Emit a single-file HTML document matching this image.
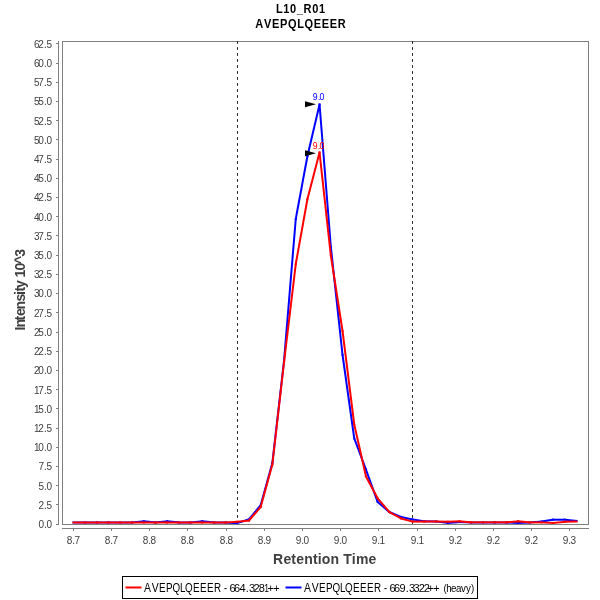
<!DOCTYPE html>
<html><head><meta charset="utf-8"><title>L10_R01 AVEPQLQEEER</title>
<style>
html,body{margin:0;padding:0;background:#fff;}
body{width:600px;height:600px;overflow:hidden;}
svg{display:block;font-family:"Liberation Sans",sans-serif;}
.tk{font-size:10px;fill:#404040;}
.ax{stroke:#808080;stroke-width:1;fill:none;shape-rendering:crispEdges;}
</style></head><body>
<svg width="600" height="600" viewBox="0 0 600 600">
<rect width="600" height="600" fill="#fff"/>
<text transform="scale(0.92,1)" x="327.01" y="13" text-anchor="middle" letter-spacing="0.7" font-size="12" font-weight="bold" fill="#000" style="font-kerning:none">L10_R01</text>
<text transform="scale(0.92,1)" x="327.01" y="28" text-anchor="middle" letter-spacing="0.7" font-size="12" font-weight="bold" fill="#000" style="font-kerning:none">AVEPQLQEEER</text>

<rect x="62.5" y="41.5" width="526" height="483" class="ax"/>
<line x1="58.5" y1="41" x2="58.5" y2="525" class="ax"/>
<line x1="56" y1="524.5" x2="58" y2="524.5" class="ax"/>
<text x="38.4 44.1 46.4" y="528" class="tk">0.0</text>
<line x1="56" y1="504.5" x2="58" y2="504.5" class="ax"/>
<text x="38.4 44.1 46.4" y="509" class="tk">2.5</text>
<line x1="56" y1="485.5" x2="58" y2="485.5" class="ax"/>
<text x="38.4 44.1 46.4" y="490" class="tk">5.0</text>
<line x1="56" y1="466.5" x2="58" y2="466.5" class="ax"/>
<text x="38.4 44.1 46.4" y="470" class="tk">7.5</text>
<line x1="56" y1="447.5" x2="58" y2="447.5" class="ax"/>
<text x="33.9 38.3 44.1 46.4" y="451" class="tk">10.0</text>
<line x1="56" y1="428.5" x2="58" y2="428.5" class="ax"/>
<text x="33.9 38.3 44.1 46.4" y="432" class="tk">12.5</text>
<line x1="56" y1="408.5" x2="58" y2="408.5" class="ax"/>
<text x="33.9 38.3 44.1 46.4" y="413" class="tk">15.0</text>
<line x1="56" y1="389.5" x2="58" y2="389.5" class="ax"/>
<text x="33.9 38.3 44.1 46.4" y="394" class="tk">17.5</text>
<line x1="56" y1="370.5" x2="58" y2="370.5" class="ax"/>
<text x="33.9 38.3 44.1 46.4" y="374" class="tk">20.0</text>
<line x1="56" y1="351.5" x2="58" y2="351.5" class="ax"/>
<text x="33.9 38.3 44.1 46.4" y="355" class="tk">22.5</text>
<line x1="56" y1="332.5" x2="58" y2="332.5" class="ax"/>
<text x="33.9 38.3 44.1 46.4" y="336" class="tk">25.0</text>
<line x1="56" y1="312.5" x2="58" y2="312.5" class="ax"/>
<text x="33.9 38.3 44.1 46.4" y="317" class="tk">27.5</text>
<line x1="56" y1="293.5" x2="58" y2="293.5" class="ax"/>
<text x="33.9 38.3 44.1 46.4" y="297" class="tk">30.0</text>
<line x1="56" y1="274.5" x2="58" y2="274.5" class="ax"/>
<text x="33.9 38.3 44.1 46.4" y="278" class="tk">32.5</text>
<line x1="56" y1="255.5" x2="58" y2="255.5" class="ax"/>
<text x="33.9 38.3 44.1 46.4" y="259" class="tk">35.0</text>
<line x1="56" y1="235.5" x2="58" y2="235.5" class="ax"/>
<text x="33.9 38.3 44.1 46.4" y="240" class="tk">37.5</text>
<line x1="56" y1="216.5" x2="58" y2="216.5" class="ax"/>
<text x="33.9 38.3 44.1 46.4" y="221" class="tk">40.0</text>
<line x1="56" y1="197.5" x2="58" y2="197.5" class="ax"/>
<text x="33.9 38.3 44.1 46.4" y="201" class="tk">42.5</text>
<line x1="56" y1="178.5" x2="58" y2="178.5" class="ax"/>
<text x="33.9 38.3 44.1 46.4" y="182" class="tk">45.0</text>
<line x1="56" y1="159.5" x2="58" y2="159.5" class="ax"/>
<text x="33.9 38.3 44.1 46.4" y="163" class="tk">47.5</text>
<line x1="56" y1="139.5" x2="58" y2="139.5" class="ax"/>
<text x="33.9 38.3 44.1 46.4" y="144" class="tk">50.0</text>
<line x1="56" y1="120.5" x2="58" y2="120.5" class="ax"/>
<text x="33.9 38.3 44.1 46.4" y="125" class="tk">52.5</text>
<line x1="56" y1="101.5" x2="58" y2="101.5" class="ax"/>
<text x="33.9 38.3 44.1 46.4" y="105" class="tk">55.0</text>
<line x1="56" y1="82.5" x2="58" y2="82.5" class="ax"/>
<text x="33.9 38.3 44.1 46.4" y="86" class="tk">57.5</text>
<line x1="56" y1="63.5" x2="58" y2="63.5" class="ax"/>
<text x="33.9 38.3 44.1 46.4" y="67" class="tk">60.0</text>
<line x1="56" y1="43.5" x2="58" y2="43.5" class="ax"/>
<text x="33.9 38.3 44.1 46.4" y="48" class="tk">62.5</text>
<line x1="62" y1="528.5" x2="589" y2="528.5" class="ax"/>
<line x1="73.5" y1="528" x2="73.5" y2="531" class="ax"/>
<text x="66.75 72.30 74.60" y="544" class="tk">8.7</text>
<line x1="111.5" y1="528" x2="111.5" y2="531" class="ax"/>
<text x="104.75 110.30 112.60" y="544" class="tk">8.7</text>
<line x1="149.5" y1="528" x2="149.5" y2="531" class="ax"/>
<text x="142.75 148.30 150.60" y="544" class="tk">8.8</text>
<line x1="187.5" y1="528" x2="187.5" y2="531" class="ax"/>
<text x="180.75 186.30 188.60" y="544" class="tk">8.8</text>
<line x1="226.5" y1="528" x2="226.5" y2="531" class="ax"/>
<text x="219.75 225.30 227.60" y="544" class="tk">8.8</text>
<line x1="264.5" y1="528" x2="264.5" y2="531" class="ax"/>
<text x="257.75 263.30 265.60" y="544" class="tk">8.9</text>
<line x1="302.5" y1="528" x2="302.5" y2="531" class="ax"/>
<text x="295.75 301.30 303.60" y="544" class="tk">9.0</text>
<line x1="340.5" y1="528" x2="340.5" y2="531" class="ax"/>
<text x="333.75 339.30 341.60" y="544" class="tk">9.0</text>
<line x1="378.5" y1="528" x2="378.5" y2="531" class="ax"/>
<text x="371.75 377.30 379.60" y="544" class="tk">9.1</text>
<line x1="417.5" y1="528" x2="417.5" y2="531" class="ax"/>
<text x="410.75 416.30 418.60" y="544" class="tk">9.1</text>
<line x1="455.5" y1="528" x2="455.5" y2="531" class="ax"/>
<text x="448.75 454.30 456.60" y="544" class="tk">9.2</text>
<line x1="493.5" y1="528" x2="493.5" y2="531" class="ax"/>
<text x="486.75 492.30 494.60" y="544" class="tk">9.2</text>
<line x1="531.5" y1="528" x2="531.5" y2="531" class="ax"/>
<text x="524.75 530.30 532.60" y="544" class="tk">9.2</text>
<line x1="569.5" y1="528" x2="569.5" y2="531" class="ax"/>
<text x="562.75 568.30 570.60" y="544" class="tk">9.3</text>
<text x="273.1" y="564" letter-spacing="0.18" font-size="14" font-weight="bold" fill="#404040">Retention Time</text>
<text transform="translate(24.6,330.6) rotate(-90)" x="0 3 10 14.5 21 29 35.5 39 42.5 50 53.2 60 66.6 73.9" font-size="14" font-weight="bold" fill="#404040">Intensity 10^3</text>
<line x1="237.5" y1="41.15" x2="237.5" y2="524" stroke="#1c1c1c" stroke-width="1" stroke-dasharray="2.7 3.3"/>
<line x1="412.5" y1="41.15" x2="412.5" y2="524" stroke="#1c1c1c" stroke-width="1" stroke-dasharray="2.7 3.3"/>
<g stroke="#0000ff" stroke-width="2" stroke-linecap="square" fill="none">
<line x1="73.50" y1="522.50" x2="85.20" y2="522.50"/>
<line x1="85.20" y1="522.50" x2="96.90" y2="522.50"/>
<line x1="96.90" y1="522.50" x2="108.59" y2="522.50"/>
<line x1="108.59" y1="522.50" x2="120.29" y2="522.50"/>
<line x1="120.29" y1="522.50" x2="131.99" y2="522.50"/>
<line x1="131.99" y1="522.50" x2="143.69" y2="521.30"/>
<line x1="143.69" y1="521.30" x2="155.38" y2="522.50"/>
<line x1="155.38" y1="522.50" x2="167.08" y2="521.30"/>
<line x1="167.08" y1="521.30" x2="178.78" y2="522.50"/>
<line x1="178.78" y1="522.50" x2="190.48" y2="522.50"/>
<line x1="190.48" y1="522.50" x2="202.17" y2="521.30"/>
<line x1="202.17" y1="521.30" x2="213.87" y2="522.50"/>
<line x1="213.87" y1="522.50" x2="225.57" y2="522.60"/>
<line x1="225.57" y1="522.60" x2="237.27" y2="523.10"/>
<line x1="237.27" y1="523.10" x2="248.97" y2="519.30"/>
<line x1="248.97" y1="519.30" x2="260.66" y2="505.20"/>
<line x1="260.66" y1="505.20" x2="272.36" y2="463.00"/>
<line x1="272.36" y1="463.00" x2="284.06" y2="360.50"/>
<line x1="284.06" y1="360.50" x2="295.76" y2="219.00"/>
<line x1="295.76" y1="219.00" x2="307.45" y2="156.00"/>
<line x1="307.45" y1="156.00" x2="319.55" y2="104.50"/>
<line x1="319.55" y1="104.50" x2="330.85" y2="247.00"/>
<line x1="330.85" y1="247.00" x2="342.55" y2="355.00"/>
<line x1="342.55" y1="355.00" x2="354.24" y2="438.30"/>
<line x1="354.24" y1="438.30" x2="365.94" y2="469.50"/>
<line x1="365.94" y1="469.50" x2="377.64" y2="502.00"/>
<line x1="377.64" y1="502.00" x2="389.34" y2="512.00"/>
<line x1="389.34" y1="512.00" x2="401.03" y2="517.00"/>
<line x1="401.03" y1="517.00" x2="412.73" y2="519.50"/>
<line x1="412.73" y1="519.50" x2="424.43" y2="521.30"/>
<line x1="424.43" y1="521.30" x2="436.13" y2="521.50"/>
<line x1="436.13" y1="521.50" x2="447.83" y2="523.00"/>
<line x1="447.83" y1="523.00" x2="459.52" y2="522.00"/>
<line x1="459.52" y1="522.00" x2="471.22" y2="522.50"/>
<line x1="471.22" y1="522.50" x2="482.92" y2="522.50"/>
<line x1="482.92" y1="522.50" x2="494.62" y2="522.50"/>
<line x1="494.62" y1="522.50" x2="506.31" y2="522.50"/>
<line x1="506.31" y1="522.50" x2="518.01" y2="523.00"/>
<line x1="518.01" y1="523.00" x2="529.71" y2="522.50"/>
<line x1="529.71" y1="522.50" x2="541.41" y2="521.50"/>
<line x1="541.41" y1="521.50" x2="553.10" y2="519.70"/>
<line x1="553.10" y1="519.70" x2="564.80" y2="519.70"/>
<line x1="564.80" y1="519.70" x2="576.50" y2="520.80"/>
</g>
<g stroke="#ff0000" stroke-width="2" stroke-linecap="square" fill="none">
<line x1="73.50" y1="522.50" x2="85.20" y2="522.50"/>
<line x1="85.20" y1="522.50" x2="96.90" y2="522.50"/>
<line x1="96.90" y1="522.50" x2="108.59" y2="522.50"/>
<line x1="108.59" y1="522.50" x2="120.29" y2="522.50"/>
<line x1="120.29" y1="522.50" x2="131.99" y2="522.50"/>
<line x1="131.99" y1="522.50" x2="143.69" y2="522.50"/>
<line x1="143.69" y1="522.50" x2="155.38" y2="522.50"/>
<line x1="155.38" y1="522.50" x2="167.08" y2="522.50"/>
<line x1="167.08" y1="522.50" x2="178.78" y2="522.50"/>
<line x1="178.78" y1="522.50" x2="190.48" y2="522.50"/>
<line x1="190.48" y1="522.50" x2="202.17" y2="522.50"/>
<line x1="202.17" y1="522.50" x2="213.87" y2="522.50"/>
<line x1="213.87" y1="522.50" x2="225.57" y2="522.40"/>
<line x1="225.57" y1="522.40" x2="237.27" y2="521.70"/>
<line x1="237.27" y1="521.70" x2="248.97" y2="520.50"/>
<line x1="248.97" y1="520.50" x2="260.66" y2="507.00"/>
<line x1="260.66" y1="507.00" x2="272.36" y2="464.50"/>
<line x1="272.36" y1="464.50" x2="284.06" y2="362.00"/>
<line x1="284.06" y1="362.00" x2="295.76" y2="264.00"/>
<line x1="295.76" y1="264.00" x2="307.45" y2="199.00"/>
<line x1="307.45" y1="199.00" x2="319.55" y2="152.50"/>
<line x1="319.55" y1="152.50" x2="330.85" y2="255.70"/>
<line x1="330.85" y1="255.70" x2="342.55" y2="331.00"/>
<line x1="342.55" y1="331.00" x2="354.24" y2="424.50"/>
<line x1="354.24" y1="424.50" x2="365.94" y2="476.30"/>
<line x1="365.94" y1="476.30" x2="377.64" y2="498.30"/>
<line x1="377.64" y1="498.30" x2="389.34" y2="512.00"/>
<line x1="389.34" y1="512.00" x2="401.03" y2="518.50"/>
<line x1="401.03" y1="518.50" x2="412.73" y2="521.60"/>
<line x1="412.73" y1="521.60" x2="424.43" y2="521.60"/>
<line x1="424.43" y1="521.60" x2="436.13" y2="521.50"/>
<line x1="436.13" y1="521.50" x2="447.83" y2="521.70"/>
<line x1="447.83" y1="521.70" x2="459.52" y2="521.30"/>
<line x1="459.52" y1="521.30" x2="471.22" y2="522.30"/>
<line x1="471.22" y1="522.30" x2="482.92" y2="522.30"/>
<line x1="482.92" y1="522.30" x2="494.62" y2="522.30"/>
<line x1="494.62" y1="522.30" x2="506.31" y2="522.30"/>
<line x1="506.31" y1="522.30" x2="518.01" y2="521.30"/>
<line x1="518.01" y1="521.30" x2="529.71" y2="522.40"/>
<line x1="529.71" y1="522.40" x2="541.41" y2="522.40"/>
<line x1="541.41" y1="522.40" x2="553.10" y2="523.00"/>
<line x1="553.10" y1="523.00" x2="564.80" y2="521.80"/>
<line x1="564.80" y1="521.80" x2="576.50" y2="521.60"/>
</g>
<polygon points="305,101.2 316,104.2 305,107.2" fill="#000"/>
<polygon points="305,150.2 316,153.2 305,156.2" fill="#000"/>
<text transform="scale(0.88,1)" x="355.34 361.36 363.18" y="100" font-size="9.9" style="text-rendering:geometricPrecision" fill="#0000ff">9.0</text>
<text transform="scale(0.88,1)" x="355.34 361.36 363.18" y="149" font-size="9.9" style="text-rendering:geometricPrecision" fill="#ff0000">9.0</text>
<rect x="122.5" y="576.5" width="355" height="22" fill="#fff" stroke="#000" stroke-width="1" shape-rendering="crispEdges"/>
<line x1="125.5" y1="587.5" x2="141.5" y2="587.5" stroke="#ff0000" stroke-width="2"/>
<text y="592" font-size="12" fill="#000"><tspan x="144.00" textLength="6.96" lengthAdjust="spacingAndGlyphs">A</tspan><tspan x="151.70" textLength="6.96" lengthAdjust="spacingAndGlyphs">V</tspan><tspan x="159.00" textLength="6.56" lengthAdjust="spacingAndGlyphs">E</tspan><tspan x="166.00" textLength="6.56" lengthAdjust="spacingAndGlyphs">P</tspan><tspan x="172.50" textLength="7.65" lengthAdjust="spacingAndGlyphs">Q</tspan><tspan x="180.00" textLength="5.47" lengthAdjust="spacingAndGlyphs">L</tspan><tspan x="185.00" textLength="7.65" lengthAdjust="spacingAndGlyphs">Q</tspan><tspan x="193.00" textLength="6.56" lengthAdjust="spacingAndGlyphs">E</tspan><tspan x="200.00" textLength="6.56" lengthAdjust="spacingAndGlyphs">E</tspan><tspan x="207.00" textLength="6.56" lengthAdjust="spacingAndGlyphs">E</tspan><tspan x="214.00" textLength="7.11" lengthAdjust="spacingAndGlyphs">R</tspan> <tspan x="223.90" textLength="3.00" lengthAdjust="spacingAndGlyphs">-</tspan> <tspan x="229.60" textLength="6.14" lengthAdjust="spacingAndGlyphs" font-size="11.5">6</tspan><tspan x="234.10" textLength="6.14" lengthAdjust="spacingAndGlyphs" font-size="11.5">6</tspan><tspan x="239.60" textLength="6.14" lengthAdjust="spacingAndGlyphs" font-size="11.5">4</tspan><tspan x="245.80" textLength="3.07" lengthAdjust="spacingAndGlyphs" font-size="11.5">.</tspan><tspan x="249.10" textLength="6.14" lengthAdjust="spacingAndGlyphs" font-size="11.5">3</tspan><tspan x="253.60" textLength="6.14" lengthAdjust="spacingAndGlyphs" font-size="11.5">2</tspan><tspan x="258.70" textLength="6.14" lengthAdjust="spacingAndGlyphs" font-size="11.5">8</tspan><tspan x="264.20" textLength="4.80" lengthAdjust="spacingAndGlyphs" font-size="11.5">1</tspan><tspan x="267.40" textLength="6.42" lengthAdjust="spacingAndGlyphs" font-size="11">+</tspan><tspan x="273.20" textLength="6.42" lengthAdjust="spacingAndGlyphs" font-size="11">+</tspan></text>
<line x1="285.5" y1="587.5" x2="301.5" y2="587.5" stroke="#0000ff" stroke-width="2"/>
<text y="592" font-size="12" fill="#000"><tspan x="304.00" textLength="6.96" lengthAdjust="spacingAndGlyphs">A</tspan><tspan x="311.70" textLength="6.96" lengthAdjust="spacingAndGlyphs">V</tspan><tspan x="319.00" textLength="6.56" lengthAdjust="spacingAndGlyphs">E</tspan><tspan x="326.00" textLength="6.56" lengthAdjust="spacingAndGlyphs">P</tspan><tspan x="332.50" textLength="7.65" lengthAdjust="spacingAndGlyphs">Q</tspan><tspan x="340.00" textLength="5.47" lengthAdjust="spacingAndGlyphs">L</tspan><tspan x="345.00" textLength="7.65" lengthAdjust="spacingAndGlyphs">Q</tspan><tspan x="353.00" textLength="6.56" lengthAdjust="spacingAndGlyphs">E</tspan><tspan x="360.00" textLength="6.56" lengthAdjust="spacingAndGlyphs">E</tspan><tspan x="367.00" textLength="6.56" lengthAdjust="spacingAndGlyphs">E</tspan><tspan x="374.00" textLength="7.11" lengthAdjust="spacingAndGlyphs">R</tspan> <tspan x="383.90" textLength="3.00" lengthAdjust="spacingAndGlyphs">-</tspan> <tspan x="389.60" textLength="6.14" lengthAdjust="spacingAndGlyphs" font-size="11.5">6</tspan><tspan x="394.10" textLength="6.14" lengthAdjust="spacingAndGlyphs" font-size="11.5">6</tspan><tspan x="399.60" textLength="6.14" lengthAdjust="spacingAndGlyphs" font-size="11.5">9</tspan><tspan x="405.80" textLength="3.07" lengthAdjust="spacingAndGlyphs" font-size="11.5">.</tspan><tspan x="409.10" textLength="6.14" lengthAdjust="spacingAndGlyphs" font-size="11.5">3</tspan><tspan x="413.60" textLength="6.14" lengthAdjust="spacingAndGlyphs" font-size="11.5">3</tspan><tspan x="418.70" textLength="6.14" lengthAdjust="spacingAndGlyphs" font-size="11.5">2</tspan><tspan x="423.70" textLength="6.14" lengthAdjust="spacingAndGlyphs" font-size="11.5">2</tspan><tspan x="427.40" textLength="6.42" lengthAdjust="spacingAndGlyphs" font-size="11">+</tspan><tspan x="433.20" textLength="6.42" lengthAdjust="spacingAndGlyphs" font-size="11">+</tspan> <tspan x="443.50" textLength="3.24" lengthAdjust="spacingAndGlyphs" font-size="11.6">(</tspan><tspan x="446.30" textLength="5.42" lengthAdjust="spacingAndGlyphs" font-size="11.6">h</tspan><tspan x="451.00" textLength="5.42" lengthAdjust="spacingAndGlyphs" font-size="11.6">e</tspan><tspan x="456.00" textLength="5.42" lengthAdjust="spacingAndGlyphs" font-size="11.6">a</tspan><tspan x="461.00" textLength="4.87" lengthAdjust="spacingAndGlyphs" font-size="11.6">v</tspan><tspan x="466.00" textLength="4.87" lengthAdjust="spacingAndGlyphs" font-size="11.6">y</tspan><tspan x="471.00" textLength="3.24" lengthAdjust="spacingAndGlyphs" font-size="11.6">)</tspan></text>
</svg></body></html>
